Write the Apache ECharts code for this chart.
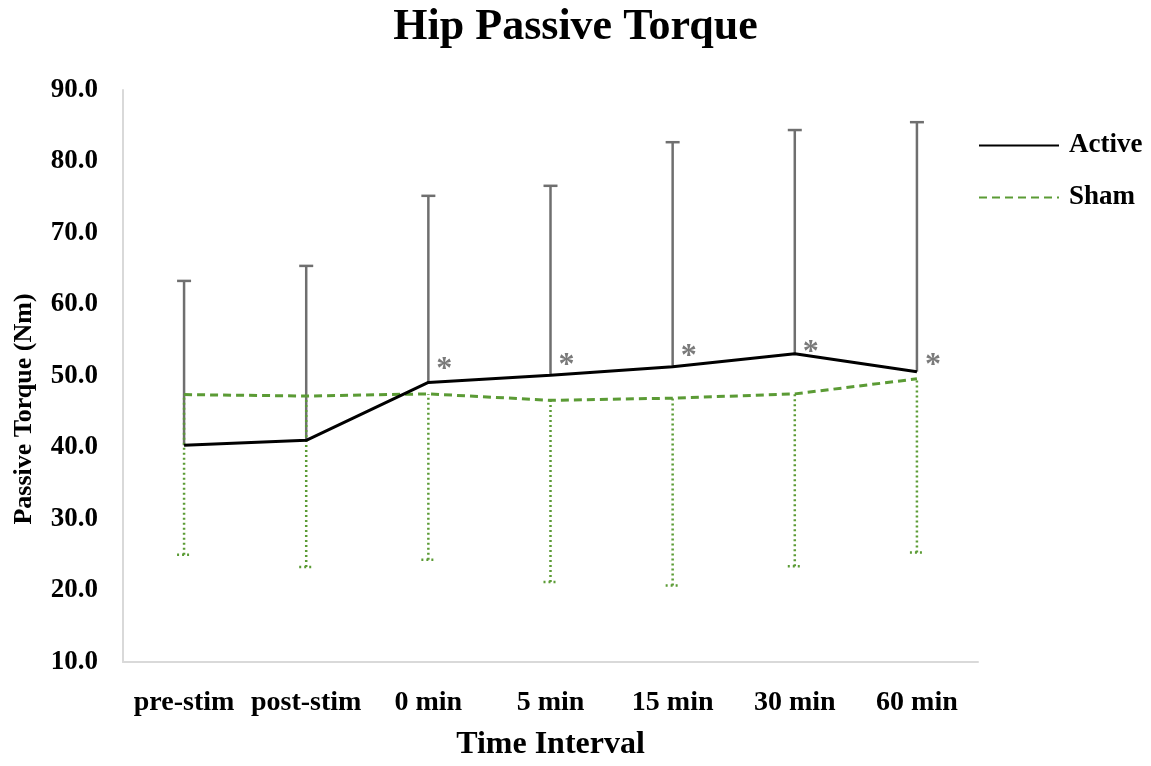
<!DOCTYPE html>
<html>
<head>
<meta charset="utf-8">
<script src="https://cdn.jsdelivr.net/npm/echarts@6/dist/echarts.min.js"></script>
<style>html,body{margin:0;padding:0;background:#fff;}#c{width:1151px;height:766px;}</style>
</head>
<body>
<div id="c"></div>
<script>
const categories = ['pre-stim', 'post-stim', '0 min', '5 min', '15 min', '30 min', '60 min'];
const activeMean = [40.3, 41.0, 49.1, 50.1, 51.3, 53.1, 50.6];
const activeUpper = [63.3, 65.4, 75.2, 76.6, 82.7, 84.4, 85.5];
const shamMean = [47.4, 47.2, 47.5, 46.6, 46.9, 47.5, 49.6];
const shamLower = [25.0, 23.3, 24.3, 21.2, 20.7, 23.4, 25.3];
const asteriskY = [null, null, 51.8, 52.4, 53.7, 54.3, 52.4];
const yTicks = [10, 20, 30, 40, 50, 60, 70, 80, 90];

const FONT = 'Liberation Serif';
const chart = echarts.init(document.getElementById('c'));

function errorBar(lowArr, highArr, color, dotted) {
  return {
    type: 'custom',
    silent: true,
    z: 1,
    data: categories.map((c, i) => [i, lowArr[i], highArr[i]]),
    renderItem: function (params, api) {
      const x = api.value(0);
      const lo = api.coord([x, api.value(1)]);
      const hi = api.coord([x, api.value(2)]);
      const capY = dotted ? lo[1] : hi[1];
      const style = {
        stroke: color,
        lineWidth: 2.5,
        lineDash: dotted ? [2, 3] : null
      };
      return {
        type: 'group',
        children: [
          { type: 'line', shape: { x1: lo[0], y1: lo[1], x2: hi[0], y2: hi[1] }, style: style },
          { type: 'line', shape: { x1: lo[0] - 7, y1: capY, x2: lo[0] + 7, y2: capY }, style: style }
        ]
      };
    }
  };
}

chart.setOption({
  animation: false,
  backgroundColor: '#ffffff',
  title: {
    text: 'Hip Passive Torque',
    left: 'center',
    top: 6,
    padding: 0,
    textStyle: { fontFamily: FONT, fontWeight: 'bold', fontSize: 44, color: '#000' }
  },
  legend: {
    orient: 'vertical',
    left: 978,
    top: 132,
    padding: 0,
    itemWidth: 80,
    itemHeight: 14,
    itemGap: 25,
    itemStyle: { opacity: 0 },
    textStyle: { fontFamily: FONT, fontWeight: 'bold', fontSize: 27, color: '#000', padding: [0, 0, 0, 5] },
    data: ['Active', 'Sham']
  },
  grid: { left: 123, top: 90, width: 855, height: 582, containLabel: false },
  xAxis: {
    type: 'category',
    data: categories,
    boundaryGap: true,
    name: 'Time Interval',
    nameLocation: 'middle',
    nameGap: 67,
    nameTextStyle: { fontFamily: FONT, fontWeight: 'bold', fontSize: 32, color: '#000' },
    axisLine: { lineStyle: { color: '#d9d9d9', width: 2 } },
    axisTick: { show: false },
    axisLabel: { fontFamily: FONT, fontWeight: 'bold', fontSize: 28, color: '#000', margin: 27, interval: 0 }
  },
  yAxis: {
    type: 'value',
    min: yTicks[0],
    max: yTicks[yTicks.length - 1],
    interval: 10,
    name: 'Passive Torque (Nm)',
    nameLocation: 'middle',
    nameGap: 86,
    nameTextStyle: { fontFamily: FONT, fontWeight: 'bold', fontSize: 26, color: '#000', padding: [0, 66, 0, 0] },
    axisLine: { show: true, lineStyle: { color: '#d9d9d9', width: 2 } },
    axisTick: { show: false },
    splitLine: { show: false },
    axisLabel: {
      fontFamily: FONT, fontWeight: 'bold', fontSize: 27, color: '#000', margin: 25,
      formatter: v => v.toFixed(1)
    }
  },
  series: [
    errorBar(activeMean, activeUpper, '#6f6f6f', false),
    errorBar(shamLower, shamMean, '#5b9b35', true),
    {
      name: 'Sham',
      type: 'line',
      data: shamMean,
      symbol: 'none',
      z: 3,
      lineStyle: { color: '#5b9b35', width: 3, type: [8, 5] },
      itemStyle: { color: '#5b9b35' }
    },
    {
      name: 'Active',
      type: 'line',
      data: activeMean,
      symbol: 'none',
      z: 4,
      lineStyle: { color: '#000000', width: 3 },
      itemStyle: { color: '#000000' }
    },
    {
      type: 'scatter',
      data: asteriskY,
      symbolSize: 0,
      silent: true,
      z: 5,
      label: {
        show: true,
        formatter: '*',
        position: 'inside',
        offset: [16, 7],
        fontFamily: FONT,
        fontWeight: 'bold',
        fontSize: 32,
        color: '#595959'
      }
    }
  ]
});
</script>
</body>
</html>
